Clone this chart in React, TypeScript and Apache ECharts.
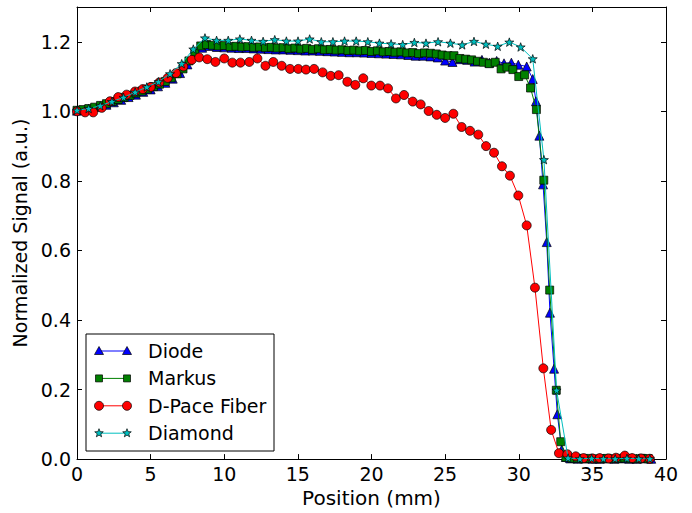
import React, { useEffect, useRef } from "react";
import * as echarts from "echarts";

const xTicks = [0, 5, 10, 15, 20, 25, 30, 35, 40];
const yTicks = [0, 0.2, 0.4, 0.6, 0.8, 1.0, 1.2];
const seriesNames = ["Diode", "Markus", "D-Pace Fiber", "Diamond"];

const diode: [number, number][] = [
  [0, 1.002], [0.5, 1.004], [1.0, 1.008], [1.5, 1.013], [2.0, 1.019], [2.5, 1.026], [3.0, 1.033], [3.5, 1.041],
  [4.0, 1.048], [4.5, 1.056], [5.0, 1.063], [5.5, 1.072], [6.0, 1.082], [6.5, 1.094], [7.0, 1.110], [7.5, 1.135],
  [8.0, 1.162], [8.5, 1.183], [9.0, 1.188], [9.5, 1.185], [10.0, 1.184], [10.5, 1.183], [11.0, 1.182], [11.5, 1.182],
  [12.0, 1.181], [12.5, 1.180], [13.0, 1.179], [13.5, 1.178], [14.0, 1.178], [14.5, 1.177], [15.0, 1.176], [15.5, 1.175],
  [16.0, 1.175], [16.5, 1.174], [17.0, 1.173], [17.5, 1.172], [18.0, 1.171], [18.5, 1.170], [19.0, 1.170], [19.5, 1.169],
  [20.0, 1.168], [20.5, 1.167], [21.0, 1.166], [21.5, 1.165], [22.0, 1.164], [22.5, 1.162], [23.0, 1.160], [23.5, 1.160],
  [24.0, 1.158], [24.5, 1.155], [25.0, 1.146], [25.5, 1.142], [26.0, 1.150], [26.5, 1.148], [27.0, 1.143], [27.5, 1.148],
  [28.0, 1.140], [28.5, 1.145], [29.0, 1.138], [29.5, 1.140], [29.97, 1.134], [30.54, 1.129], [30.95, 1.093], [31.17, 1.029],
  [31.4, 0.930], [31.65, 0.790], [31.9, 0.624], [32.12, 0.421], [32.4, 0.260], [32.62, 0.129], [32.92, 0.027], [33.2, 0.006],
  [33.5, 0.002], [34.0, 0.001], [34.5, 0.002], [35.0, 0.001], [35.5, 0.001], [36.0, 0.002], [36.5, 0.001], [37.0, 0.002],
  [37.5, 0.001], [38.0, 0.001], [38.5, 0.002], [39.0, 0.001],
];

const markus: [number, number][] = [
  [0, 1.003], [0.4, 1.005], [0.8, 1.008], [1.2, 1.012], [1.6, 1.017], [2.0, 1.022], [2.4, 1.028], [2.8, 1.034],
  [3.2, 1.040], [3.6, 1.046], [4.0, 1.052], [4.4, 1.058], [4.8, 1.064], [5.2, 1.071], [5.6, 1.078], [6.0, 1.086],
  [6.4, 1.096], [6.8, 1.108], [7.2, 1.122], [7.6, 1.145], [8.0, 1.170], [8.4, 1.188], [8.8, 1.192], [9.2, 1.190],
  [9.6, 1.188], [10.0, 1.189], [10.4, 1.186], [10.8, 1.187], [11.2, 1.185], [11.6, 1.186], [12.0, 1.184], [12.4, 1.185],
  [12.8, 1.183], [13.2, 1.184], [13.6, 1.182], [14.0, 1.183], [14.4, 1.180], [14.8, 1.182], [15.2, 1.179], [15.6, 1.181],
  [16.0, 1.178], [16.4, 1.180], [16.8, 1.177], [17.2, 1.178], [17.6, 1.176], [18.0, 1.177], [18.4, 1.175], [18.8, 1.176],
  [19.2, 1.174], [19.6, 1.175], [20.0, 1.172], [20.4, 1.174], [20.8, 1.171], [21.2, 1.172], [21.6, 1.170], [22.0, 1.171],
  [22.4, 1.168], [22.8, 1.169], [23.2, 1.166], [23.6, 1.168], [24.0, 1.167], [24.4, 1.165], [24.8, 1.162], [25.2, 1.160],
  [25.6, 1.160], [26.0, 1.152], [26.4, 1.150], [26.8, 1.148], [27.2, 1.144], [27.6, 1.141], [28.0, 1.137], [28.4, 1.141],
  [28.8, 1.122], [29.2, 1.127], [29.6, 1.120], [30.0, 1.100], [30.4, 1.105], [30.8, 1.067], [31.2, 1.005], [31.7, 0.802],
  [32.1, 0.486], [32.55, 0.198], [32.85, 0.050], [33.2, 0.005], [33.6, 0.002], [34.0, 0.002], [34.4, 0.001], [34.8, 0.002],
  [35.2, 0.001], [35.6, 0.001], [36.0, 0.002], [36.4, 0.001], [36.8, 0.002], [37.2, 0.003], [37.6, 0.001], [38.0, 0.001],
  [38.4, 0.002], [38.8, 0.001],
];

const dpace: [number, number][] = [
  [0, 1.000], [0.55, 0.997], [1.1, 0.997], [1.68, 1.010], [2.24, 1.029], [2.8, 1.041], [3.37, 1.048], [3.94, 1.057],
  [4.46, 1.064], [5.0, 1.070], [5.59, 1.083], [6.16, 1.096], [6.72, 1.110], [7.22, 1.129], [7.8, 1.148], [8.3, 1.155],
  [8.85, 1.150], [9.4, 1.142], [10.0, 1.152], [10.55, 1.140], [11.1, 1.140], [11.7, 1.142], [12.25, 1.152], [12.8, 1.131],
  [13.33, 1.142], [13.9, 1.131], [14.47, 1.122], [15.03, 1.122], [15.55, 1.120], [16.1, 1.122], [16.68, 1.112], [17.23, 1.102],
  [17.77, 1.104], [18.36, 1.085], [18.9, 1.076], [19.44, 1.095], [19.99, 1.074], [20.58, 1.074], [21.12, 1.066], [21.66, 1.037],
  [22.21, 1.047], [22.8, 1.028], [23.34, 1.020], [23.88, 1.001], [24.43, 0.990], [25.0, 0.981], [25.56, 0.993], [26.12, 0.955],
  [26.69, 0.944], [27.25, 0.933], [27.78, 0.900], [28.32, 0.881], [28.86, 0.842], [29.4, 0.815], [29.97, 0.758], [30.54, 0.672],
  [31.1, 0.493], [31.67, 0.261], [32.2, 0.084], [32.73, 0.017], [33.3, 0.014], [33.87, 0.008], [34.4, 0.003], [35.0, 0.002],
  [35.5, 0.003], [36.1, 0.002], [36.6, 0.004], [37.2, 0.010], [37.7, 0.003], [38.3, 0.002], [38.9, 0.001],
];

const diamond: [number, number][] = [
  [0, 1.003], [0.79, 1.008], [1.58, 1.016], [2.37, 1.028], [3.16, 1.040], [3.95, 1.055], [4.74, 1.070], [5.53, 1.085],
  [6.32, 1.108], [7.11, 1.137], [7.9, 1.179], [8.69, 1.211], [9.48, 1.204], [10.27, 1.204], [11.06, 1.208], [11.85, 1.204],
  [12.64, 1.201], [13.43, 1.206], [14.22, 1.202], [15.01, 1.202], [15.8, 1.208], [16.59, 1.200], [17.38, 1.200], [18.17, 1.202],
  [18.96, 1.202], [19.75, 1.200], [20.54, 1.196], [21.33, 1.194], [22.12, 1.192], [22.91, 1.198], [23.7, 1.196], [24.52, 1.200],
  [25.36, 1.196], [26.16, 1.191], [26.96, 1.201], [27.77, 1.193], [28.57, 1.187], [29.36, 1.199], [30.13, 1.185], [30.95, 1.151],
  [31.71, 0.861], [32.57, 0.198], [33.35, 0.003], [34.15, 0.001], [34.95, 0.002], [35.75, 0.001], [36.55, 0.001], [37.35, 0.002],
  [38.15, 0.001], [38.9, 0.001],
];

const seriesColors = ["#0000ff", "#008000", "#ff0000", "#00bfbf"];
const FONT = "DejaVu Sans";
const STAR = "path://M0,-10 L2.35,-3.24 L9.51,-3.09 L3.8,1.24 L5.88,8.09 L0,4 L-5.88,8.09 L-3.8,1.24 L-9.51,-3.09 L-2.35,-3.24 Z";

function starPoints(cx: number, cy: number, r: number, ri: number): number[][] {
  const pts: number[][] = [];
  for (let i = 0; i < 10; i++) {
    const a = -Math.PI / 2 + (i * Math.PI) / 5;
    const rr = i % 2 === 0 ? r : ri;
    pts.push([cx + rr * Math.cos(a), cy + rr * Math.sin(a)]);
  }
  return pts;
}

function legendMarker(kind: number, x: number, y: number): any {
  const st = { fill: seriesColors[kind], stroke: "#000", lineWidth: 0.7 };
  if (kind === 0) return { type: "polygon", shape: { points: [[x, y - 4.5], [x + 4.5, y + 3.5], [x - 4.5, y + 3.5]] }, style: st, z: 102 };
  if (kind === 1) return { type: "rect", shape: { x: x - 3.5, y: y - 3.5, width: 7, height: 7 }, style: st, z: 102 };
  if (kind === 2) return { type: "circle", shape: { cx: x, cy: y, r: 4.5 }, style: st, z: 102 };
  return { type: "polygon", shape: { points: starPoints(x, y, 4.5, 1.9) }, style: st, z: 102 };
}

export default function App() {
  const ref = useRef<HTMLDivElement>(null);
  useEffect(() => {
    if (!ref.current) return;
    const chart = echarts.init(ref.current, null, { renderer: "svg" });
    const axisLine = { show: true, onZero: false, lineStyle: { color: "#000", width: 1 } };
    const axisTick = { show: true, inside: true, length: 5, lineStyle: { color: "#000", width: 1 } };
    const labelStyle = { color: "#000", fontSize: 19, fontFamily: FONT };

    const datasets = [diode, markus, dpace, diamond];
    const symbols = ["triangle", "rect", "circle", STAR];
    const sizes = [9, 8, 9, 9];

    const legendGraphics: any[] = [
      { type: "rect", shape: { x: 86, y: 334, width: 188, height: 117 }, style: { fill: "#fff", stroke: "#000", lineWidth: 1 }, z: 100 },
    ];
    seriesNames.forEach((name, i) => {
      const y = 351 + i * 27.4;
      legendGraphics.push({ type: "line", shape: { x1: 99, y1: y, x2: 127, y2: y }, style: { stroke: seriesColors[i], lineWidth: 1 }, z: 101 });
      legendGraphics.push(legendMarker(i, 99, y));
      legendGraphics.push(legendMarker(i, 127, y));
      legendGraphics.push({ type: "text", x: 148, y, style: { text: name, fill: "#000", font: `19px "${FONT}"`, verticalAlign: "middle", align: "left" }, z: 102 });
    });

    chart.setOption({
      animation: false,
      backgroundColor: "#fff",
      grid: { left: 77, right: 26, top: 7, bottom: 53, containLabel: false },
      xAxis: [
        {
          type: "value", min: xTicks[0], max: xTicks[xTicks.length - 1], interval: 5, position: "bottom",
          axisLine, axisTick, splitLine: { show: false },
          axisLabel: { ...labelStyle, margin: 5 },
          name: "Position (mm)", nameLocation: "middle", nameGap: 28,
          nameTextStyle: { ...labelStyle, fontSize: 20 },
        },
        {
          type: "value", min: xTicks[0], max: xTicks[xTicks.length - 1], interval: 5, position: "top",
          axisLine, axisTick, splitLine: { show: false }, axisLabel: { show: false },
        },
      ],
      yAxis: [
        {
          type: "value", min: 0, max: 1.3, interval: 0.2, position: "left",
          axisLine, axisTick, splitLine: { show: false },
          axisLabel: { ...labelStyle, margin: 6, showMaxLabel: false, formatter: (v: number) => (yTicks.some((t) => Math.abs(t - v) < 1e-6) ? v.toFixed(1) : "") },
          name: "Normalized Signal (a.u.)", nameLocation: "middle", nameGap: 46, nameRotate: 90,
          nameTextStyle: { ...labelStyle },
        },
        {
          type: "value", min: 0, max: 1.3, interval: 0.2, position: "right",
          axisLine, axisTick, splitLine: { show: false }, axisLabel: { show: false },
        },
      ],
      series: datasets.map((d, i) => ({
        name: seriesNames[i],
        type: "line",
        data: d,
        xAxisIndex: 0,
        yAxisIndex: 0,
        symbol: symbols[i],
        symbolSize: sizes[i],
        symbolKeepAspect: true,
        showSymbol: true,
        showAllSymbol: true,
        lineStyle: { color: seriesColors[i], width: 1 },
        itemStyle: { color: seriesColors[i], borderColor: "#000", borderWidth: 0.7 },
        z: 2 + i,
      })),
      graphic: legendGraphics,
    });
    return () => chart.dispose();
  }, []);
  return <div ref={ref} style={{ position: "fixed", left: 0, top: 0, width: 692, height: 513 }} />;
}
